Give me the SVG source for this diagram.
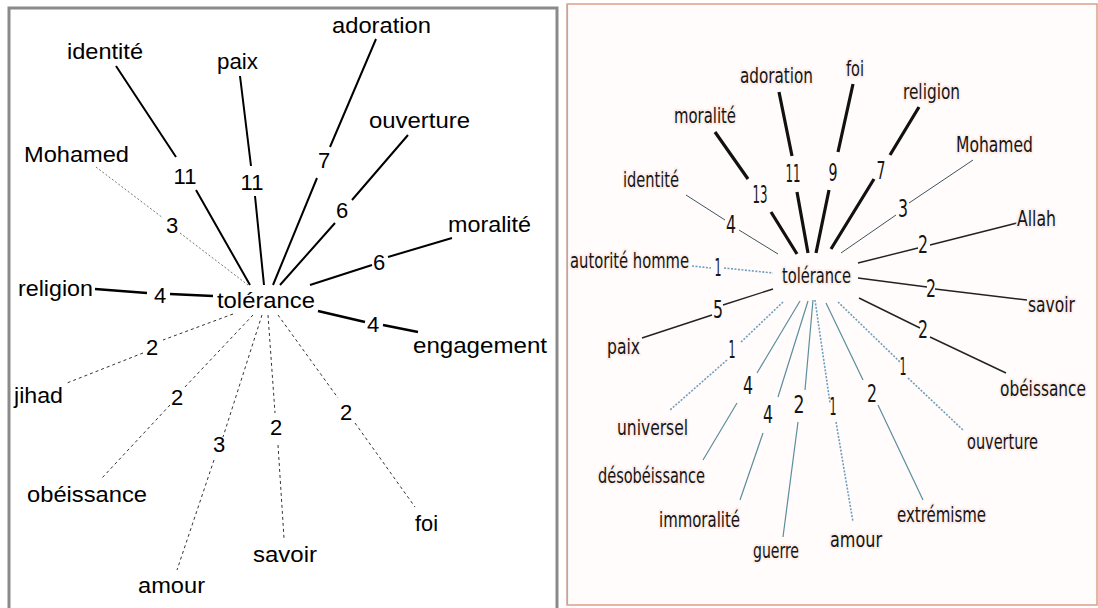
<svg xmlns="http://www.w3.org/2000/svg" width="1098" height="608" viewBox="0 0 1098 608">
<style>
.lt{font-family:"Liberation Sans",Arial,sans-serif;font-size:22px;fill:#000}
.ln{font-family:"Liberation Sans",Arial,sans-serif;font-size:22px;fill:#000;text-anchor:middle}
.rt{font-family:"DejaVu Sans Condensed","Liberation Sans Narrow","Liberation Sans",sans-serif;font-size:22px;fill:#151515;stroke:#fcefeb;stroke-width:4;stroke-linejoin:round;paint-order:stroke}
.rn{font-family:"DejaVu Sans Condensed","Liberation Sans Narrow","Liberation Sans",sans-serif;font-size:24px;fill:#151515;text-anchor:middle}
.ls{fill:none;stroke:#000;stroke-width:2}
.lsb{fill:none;stroke:#000;stroke-width:2.6}
.ld{fill:none;stroke:#333;stroke-width:1;stroke-dasharray:3 3}
.lg{fill:none;stroke:#777;stroke-width:1;stroke-dasharray:2 2}
.rk{fill:none;stroke:#111;stroke-width:3.2}
.rm{fill:none;stroke:#222;stroke-width:1.4}
.rth{fill:none;stroke:#3d5560;stroke-width:1}
.rtl{fill:none;stroke:#5d8d9c;stroke-width:1.2}
.rdot{fill:none;stroke:#6f9fbe;stroke-width:1.6;stroke-dasharray:2 1.5}
</style>
<rect x="0" y="0" width="1098" height="608" fill="#fff"/>
<rect x="9" y="8" width="548" height="620" fill="#fff" stroke="#8a8a8a" stroke-width="3"/>
<rect x="567" y="4" width="530" height="601" fill="#fffcfb" stroke="#d9a08a" stroke-width="1.5"/>
<line x1="567.5" y1="5" x2="567.5" y2="604" stroke="#8db8d2" stroke-width="1.2"/>

<g id="connectors-left">
<path class="ls" d="M116,66 L176,157 M196,190 L250,285"/>
<path class="ls" d="M240,76 L251,166 M255,196 L264,285"/>
<path class="lg" d="M96,167 L163,218 M180,233 L248,285"/>
<path class="ls" d="M376,39 L330,147 M317,178 L273,285"/>
<path class="ls" d="M408,135 L352,200 M335,223 L280,285"/>
<path class="ls" d="M452,238 L388,257 M372,265 L310,285"/>
<path class="lsb" d="M95,289 L147,293 M170,294 L213,296"/>
<path class="lsb" d="M318,311 L365,322 M383,325 L418,332"/>
<path class="ld" d="M233,314 L163,340 M143,353 L67,383"/>
<path class="ld" d="M253,315 L184,388 M170,405 L102,478"/>
<path class="ld" d="M262,315 L223,437 M214,460 L177,570"/>
<path class="ld" d="M268,315 L275,413 M278,445 L284,538"/>
<path class="ld" d="M278,315 L338,398 M355,423 L415,507"/>
<text class="ln" x="185" y="184">11</text>
<text class="ln" x="252" y="190">11</text>
<text class="ln" x="172" y="233">3</text>
<text class="ln" x="324" y="168">7</text>
<text class="ln" x="342" y="218">6</text>
<text class="ln" x="379" y="270">6</text>
<text class="ln" x="160" y="303">4</text>
<text class="ln" x="373" y="332">4</text>
<text class="ln" x="152" y="355">2</text>
<text class="ln" x="177" y="405">2</text>
<text class="ln" x="219" y="452">3</text>
<text class="ln" x="276" y="435">2</text>
<text class="ln" x="346" y="420">2</text>
</g>

<g id="L-tolerance"><text class="lt" x="217" y="308" textLength="98" lengthAdjust="spacingAndGlyphs">tolérance</text></g>
<g id="L-identite"><text class="lt" x="67" y="59" textLength="76" lengthAdjust="spacingAndGlyphs">identité</text></g>
<g id="L-paix"><text class="lt" x="217" y="69" textLength="41" lengthAdjust="spacingAndGlyphs">paix</text></g>
<g id="L-mohamed"><text class="lt" x="24" y="162" textLength="105" lengthAdjust="spacingAndGlyphs">Mohamed</text></g>
<g id="L-adoration"><text class="lt" x="332" y="33" textLength="99" lengthAdjust="spacingAndGlyphs">adoration</text></g>
<g id="L-ouverture"><text class="lt" x="369" y="128" textLength="101" lengthAdjust="spacingAndGlyphs">ouverture</text></g>
<g id="L-moralite"><text class="lt" x="448" y="232" textLength="83" lengthAdjust="spacingAndGlyphs">moralité</text></g>
<g id="L-religion"><text class="lt" x="18" y="296" textLength="75" lengthAdjust="spacingAndGlyphs">religion</text></g>
<g id="L-engagement"><text class="lt" x="413" y="353" textLength="134" lengthAdjust="spacingAndGlyphs">engagement</text></g>
<g id="L-jihad"><text class="lt" x="14" y="403" textLength="49" lengthAdjust="spacingAndGlyphs">jihad</text></g>
<g id="L-obeissance"><text class="lt" x="27" y="502" textLength="120" lengthAdjust="spacingAndGlyphs">obéissance</text></g>
<g id="L-amour"><text class="lt" x="138" y="593" textLength="67" lengthAdjust="spacingAndGlyphs">amour</text></g>
<g id="L-savoir"><text class="lt" x="253" y="562" textLength="64" lengthAdjust="spacingAndGlyphs">savoir</text></g>
<g id="L-foi"><text class="lt" x="415" y="531" textLength="23" lengthAdjust="spacingAndGlyphs">foi</text></g>

<g id="connectors-right">
<path class="rdot" d="M692,266 L711,268 M724,268 L773,273"/>
<path class="rth" d="M686,195 L725,220 M739,230 L778,254"/>
<path class="rk" d="M715,132 L748,179 M771,212 L797,254"/>
<path class="rk" d="M779,92 L792,156 M797,192 L808,253"/>
<path class="rk" d="M853,84 L838,152 M829,190 L816,253"/>
<path class="rk" d="M919,107 L890,155 M874,179 L831,249"/>
<path class="rth" d="M973,160 L909,203 M896,215 L841,253"/>
<path class="rm" d="M1017,223 L930,245 M918,248 L858,263"/>
<path class="rm" d="M858,278 L927,287 M935,289 L1027,300"/>
<path class="rm" d="M859,298 L920,328 M930,337 L1006,373"/>
<path class="rdot" d="M838,302 L900,362 M908,378 L963,430"/>
<path class="rtl" d="M826,303 L863,380 M878,405 L923,500"/>
<path class="rdot" d="M815,300 L830,403 M836,422 L853,522"/>
<path class="rtl" d="M813,300 L805,390 M798,422 L783,537"/>
<path class="rtl" d="M808,301 L778,397 M763,433 L740,500"/>
<path class="rtl" d="M800,301 L757,373 M737,403 L703,460"/>
<path class="rdot" d="M783,302 L740,343 M727,360 L670,410"/>
<path class="rm" d="M773,289 L723,305 M712,315 L642,338"/>
<text class="rn" x="760" y="203" textLength="15" lengthAdjust="spacingAndGlyphs">13</text>
<text class="rn" x="793" y="182" textLength="15" lengthAdjust="spacingAndGlyphs">11</text>
<text class="rn" x="731" y="233" textLength="10" lengthAdjust="spacingAndGlyphs">4</text>
<text class="rn" x="718" y="276" textLength="7" lengthAdjust="spacingAndGlyphs">1</text>
<text class="rn" x="833" y="181" textLength="9" lengthAdjust="spacingAndGlyphs">9</text>
<text class="rn" x="881" y="179" textLength="9" lengthAdjust="spacingAndGlyphs">7</text>
<text class="rn" x="903" y="217" textLength="10" lengthAdjust="spacingAndGlyphs">3</text>
<text class="rn" x="923" y="253" textLength="10" lengthAdjust="spacingAndGlyphs">2</text>
<text class="rn" x="931" y="297" textLength="10" lengthAdjust="spacingAndGlyphs">2</text>
<text class="rn" x="923" y="338" textLength="10" lengthAdjust="spacingAndGlyphs">2</text>
<text class="rn" x="903" y="375" textLength="7" lengthAdjust="spacingAndGlyphs">1</text>
<text class="rn" x="872" y="402" textLength="10" lengthAdjust="spacingAndGlyphs">2</text>
<text class="rn" x="833" y="415" textLength="7" lengthAdjust="spacingAndGlyphs">1</text>
<text class="rn" x="718" y="318" textLength="10" lengthAdjust="spacingAndGlyphs">5</text>
<text class="rn" x="732" y="358" textLength="7" lengthAdjust="spacingAndGlyphs">1</text>
<text class="rn" x="748" y="394" textLength="10" lengthAdjust="spacingAndGlyphs">4</text>
<text class="rn" x="768" y="423" textLength="10" lengthAdjust="spacingAndGlyphs">4</text>
<text class="rn" x="799" y="413" textLength="11" lengthAdjust="spacingAndGlyphs">2</text>
</g>

<g id="R-tolerance"><text class="rt" x="782" y="283" font-size="24" textLength="69" lengthAdjust="spacingAndGlyphs">tolérance</text></g>
<g id="R-adoration"><text class="rt" x="740" y="83" textLength="73" lengthAdjust="spacingAndGlyphs">adoration</text></g>
<g id="R-moralite"><text class="rt" x="674" y="123" textLength="62" lengthAdjust="spacingAndGlyphs">moralité</text></g>
<g id="R-identite"><text class="rt" x="623" y="187" textLength="56" lengthAdjust="spacingAndGlyphs">identité</text></g>
<g id="R-autorite-homme"><text class="rt" x="570" y="268" textLength="119" lengthAdjust="spacingAndGlyphs">autorité homme</text></g>
<g id="R-foi"><text class="rt" x="846" y="76" textLength="18" lengthAdjust="spacingAndGlyphs">foi</text></g>
<g id="R-religion"><text class="rt" x="903" y="99" textLength="57" lengthAdjust="spacingAndGlyphs">religion</text></g>
<g id="R-mohamed"><text class="rt" x="956" y="152" textLength="77" lengthAdjust="spacingAndGlyphs">Mohamed</text></g>
<g id="R-allah"><text class="rt" x="1017" y="226" textLength="39" lengthAdjust="spacingAndGlyphs">Allah</text></g>
<g id="R-savoir"><text class="rt" x="1028" y="312" textLength="47" lengthAdjust="spacingAndGlyphs">savoir</text></g>
<g id="R-obeissance"><text class="rt" x="1000" y="396" textLength="86" lengthAdjust="spacingAndGlyphs">obéissance</text></g>
<g id="R-ouverture"><text class="rt" x="967" y="449" textLength="71" lengthAdjust="spacingAndGlyphs">ouverture</text></g>
<g id="R-extremisme"><text class="rt" x="897" y="522" textLength="89" lengthAdjust="spacingAndGlyphs">extrémisme</text></g>
<g id="R-amour"><text class="rt" x="830" y="547" textLength="52" lengthAdjust="spacingAndGlyphs">amour</text></g>
<g id="R-guerre"><text class="rt" x="753" y="558" textLength="46" lengthAdjust="spacingAndGlyphs">guerre</text></g>
<g id="R-immoralite"><text class="rt" x="659" y="527" textLength="81" lengthAdjust="spacingAndGlyphs">immoralité</text></g>
<g id="R-desobeissance"><text class="rt" x="598" y="483" textLength="107" lengthAdjust="spacingAndGlyphs">désobéissance</text></g>
<g id="R-universel"><text class="rt" x="617" y="435" textLength="71" lengthAdjust="spacingAndGlyphs">universel</text></g>
<g id="R-paix"><text class="rt" x="607" y="354" textLength="33" lengthAdjust="spacingAndGlyphs">paix</text></g>
</svg>
